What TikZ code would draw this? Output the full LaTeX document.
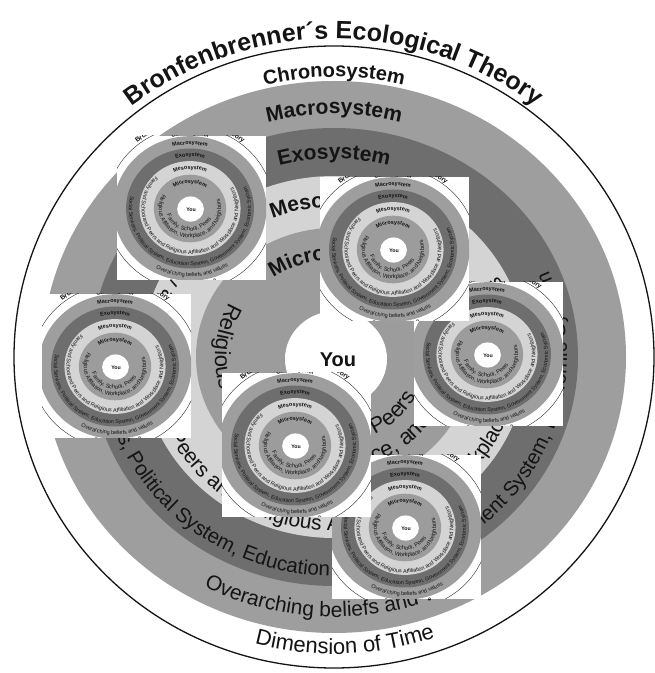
\documentclass[tikz,border=0pt]{standalone}
\usepackage{fontspec}
\setmainfont{Liberation Sans}
\usetikzlibrary{decorations.text,calc}
\definecolor{macroc}{gray}{0.62}
\definecolor{exoc}{gray}{0.43}
\definecolor{mesoc}{gray}{0.83}
\definecolor{microc}{gray}{0.61}
\definecolor{inkc}{gray}{0.08}
% #1 ry, #2 rx, #3 start angle, #4 end angle, #5 align, #6 format, #7 text
\newcommand\arctext[7]{%
  \path[decorate,decoration={text along path,text align=#5,text={|#6|#7}}]
    ($(C)+(#3:#2pt and #1pt)$) arc[start angle=#3,end angle=#4,x radius=#2pt,y radius=#1pt];}
\newcommand\fb[1]{\fontsize{#1pt}{#1pt}\selectfont\bfseries\color{inkc}}
\newcommand\fr[1]{\fontsize{#1pt}{#1pt}\selectfont\color{inkc}}
\newcommand\ecodiag{%
  \draw[line width=1.3pt,inkc] (C) ellipse[x radius=320pt,y radius=311pt];
  \fill[macroc] (C) ellipse[x radius=292pt,y radius=276pt];
  \fill[exoc] (C) ellipse[x radius=244pt,y radius=229pt];
  \fill[mesoc] (C) ellipse[x radius=193pt,y radius=181pt];
  \fill[microc] (C) ellipse[x radius=138pt,y radius=129pt];
  \fill[white] ($(C)+(2,-2)$) ellipse[x radius=51pt,y radius=48pt];
  \arctext{318}{328}{165}{15}{center}{\fb{25}}{Bronfenbrenner´s Ecological Theory}
  \arctext{280}{289}{150}{30}{center}{\fb{20}}{Chronosystem}
  \arctext{243}{257}{150}{30}{center}{\fb{21}}{Macrosystem}
  \arctext{198}{211}{150}{30}{center}{\fb{21}}{Exosystem}
  \arctext{150}{160}{150}{30}{center}{\fb{21}}{Mesosystem}
  \arctext{97}{104}{160}{20}{center}{\fb{21}}{Microsystem}
  \arctext{297}{306}{200}{344.4}{center}{\fr{22}}{Dimension of Time}
  \arctext{260}{275}{200}{344}{center}{\fr{21}}{Overarching beliefs and values}
  \arctext{219}{233}{167.5}{420}{left}{\fr{20.5}}{Social Services, Political System, Education System, Government System, Economic System}
  \arctext{174}{185}{135}{420}{left}{\fr{21}}{Family and School and Peers and Religious Affiliation and Workplace and Neighbors}
  \arctext{112}{119}{151}{400}{left}{\fr{22}}{Religious Affiliation, Workplace, and Neighbors}
  \arctext{86}{92}{180}{333}{right}{\fr{22}}{Family, School, Peers}
  \node[font=\fb{20}] (you) at ($(C)+(4,-3)$) {You};
}
\newcommand\thumb[2]{%
  \begin{scope}
    \clip (#1,673-#2) rectangle ++(149,-144);
    \fill[white] (#1,673-#2) rectangle ++(149,-144);
    \begin{scope}[transform canvas={shift={(#1+73,673-#2-72.5)},scale=0.262,shift={(-334,-316)}}]
      \ecodiag
    \end{scope}
  \end{scope}}
\begin{document}
\begin{tikzpicture}[x=1pt,y=1pt]
  \useasboundingbox (0,0) rectangle (655,673);
  \fill[white] (0,0) rectangle (655,673);
  \coordinate (C) at (334,316);
  \ecodiag
  \thumb{414}{282}
  \thumb{332}{455}
  \thumb{117}{136}
  \thumb{320}{177}
  \thumb{42}{294}
  \thumb{222}{373}
\end{tikzpicture}
\end{document}
